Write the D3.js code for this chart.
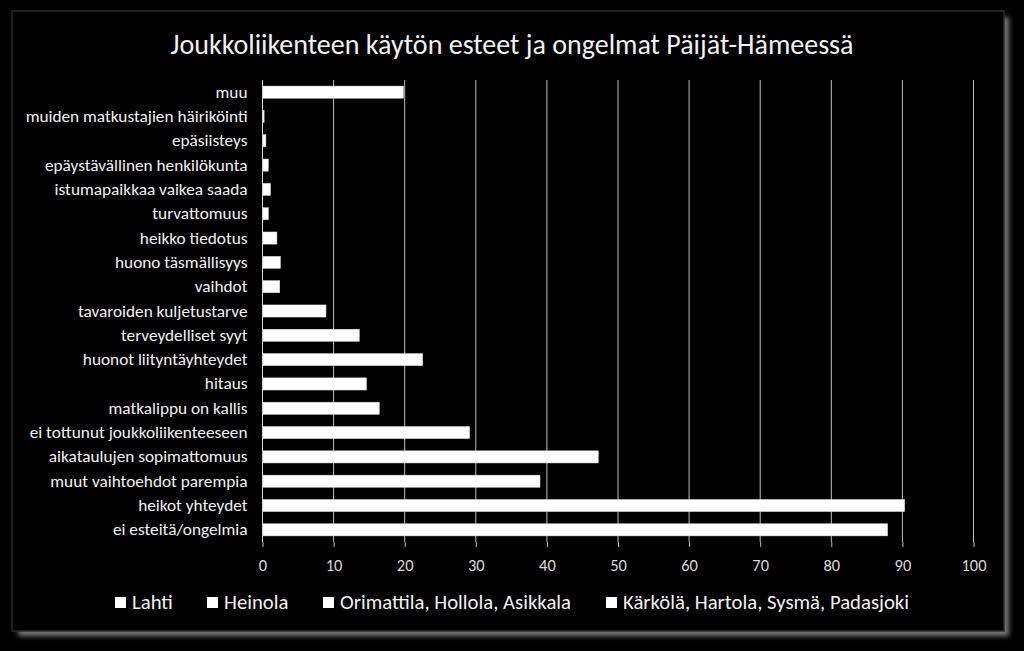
<!DOCTYPE html>
<html><head><meta charset="utf-8">
<script src="https://cdn.jsdelivr.net/npm/d3@7"></script>
<style>html,body{margin:0;padding:0;background:#000;}svg{display:block;}</style>
</head><body>
<svg id="c" width="1024" height="651"></svg>
<script>
const title = "Joukkoliikenteen käytön esteet ja ongelmat Päijät-Hämeessä";
const categories = [
  "muu","muiden matkustajien häiriköinti","epäsiisteys","epäystävällinen henkilökunta",
  "istumapaikkaa vaikea saada","turvattomuus","heikko tiedotus","huono täsmällisyys",
  "vaihdot","tavaroiden kuljetustarve","terveydelliset syyt","huonot liityntäyhteydet",
  "hitaus","matkalippu on kallis","ei tottunut joukkoliikenteeseen","aikataulujen sopimattomuus",
  "muut vaihtoehdot parempia","heikot yhteydet","ei esteitä/ongelmia"
];
const values = [19.9,0.3,0.55,0.9,1.2,0.9,2.1,2.6,2.5,9.0,13.7,22.6,14.7,16.5,29.2,47.3,39.1,90.4,88.0];
const xTicks = [0,10,20,30,40,50,60,70,80,90,100];
const legendNames = ["Lahti","Heinola","Orimattila, Hollola, Asikkala","Kärkölä, Hartola, Sysmä, Padasjoki"];

const svg = d3.select("#c");
const font = "Carlito, Calibri, Lato, 'Open Sans', sans-serif";
const defs = svg.append("defs");
defs.append("filter").attr("id","blur").attr("x","-5%").attr("y","-5%").attr("width","110%").attr("height","110%")
  .append("feGaussianBlur").attr("stdDeviation",2.5);

function fit(sel, base, target){
  sel.style("font-size", base+"px");
  const w = sel.node().getComputedTextLength();
  const s = base*target/w;
  return s;
}

// frame shadow + panel
svg.append("rect").attr("x",18).attr("y",17).attr("width",991).attr("height",619)
  .attr("fill","#777").attr("filter","url(#blur)");
svg.append("rect").attr("x",12).attr("y",11).attr("width",992).attr("height",620)
  .attr("fill","#000").attr("stroke","#2b2b2b").attr("stroke-width",1.5);

const x = d3.scaleLinear().domain([0,100]).range([262,973]);
const y = d3.scaleBand().domain(categories).range([80,542]).paddingInner(0.5).paddingOuter(0.25);

// title
const t = svg.append("text").attr("x",512).attr("y",54).attr("text-anchor","middle")
  .attr("fill","#f2f2f2").style("font-family",font).text(title);
t.style("font-size", fit(t,24,683).toFixed(2)+"px");

// gridlines
svg.append("g").selectAll("line.grid").data(xTicks.slice(1)).join("line").attr("class","grid")
  .attr("x1",d=>x(d)+0.5).attr("x2",d=>x(d)+0.5).attr("y1",80).attr("y2",542)
  .attr("stroke","#bfbfbf").attr("stroke-width",1);

// x axis
const xa = svg.append("g").attr("transform","translate(0.5,542)")
  .call(d3.axisBottom(x).tickValues(xTicks).tickSize(5).tickPadding(12).tickSizeOuter(0));
xa.select(".domain").remove();
xa.selectAll(".tick line").attr("stroke","#bfbfbf");
const xt = xa.selectAll(".tick text").attr("fill","#d9d9d9").style("font-family",font);
const tickSize = fit(xt.filter(d=>d===100), 14, 25);
xt.style("font-size", tickSize.toFixed(2)+"px");

// y axis
const ya = svg.append("g").attr("transform","translate(262.5,0)")
  .call(d3.axisLeft(y).tickSize(0).tickPadding(15));
ya.select(".domain").attr("stroke","#d9d9d9").attr("d","M0,80V542");
const yt = ya.selectAll(".tick text").attr("fill","#f2f2f2").style("font-family",font);
const ySize = fit(yt.filter(d=>d===categories[1]), 14, 222);
yt.style("font-size", ySize.toFixed(2)+"px");

// bars
svg.append("g").selectAll("rect").data(values).join("rect")
  .attr("x",x(0)+1).attr("y",(d,i)=>y(categories[i]))
  .attr("width",d=>Math.max(0,x(d)-x(0)-1)).attr("height",y.bandwidth())
  .attr("fill","#ffffff").attr("stroke","#d0d0d0").attr("stroke-width",0.5);

// legend
const legX = [115,207,323,606];
const lg = svg.append("g");
const lt = [];
legendNames.forEach((n,i)=>{
  lg.append("rect").attr("x",legX[i]).attr("y",597).attr("width",11).attr("height",11).attr("fill","#fff");
  lt.push(lg.append("text").attr("x",legX[i]+17).attr("y",609).attr("fill","#f2f2f2")
    .style("font-family",font).text(n));
});
const legSize = fit(lt[3], 16, 286);
lt.forEach(s=>s.style("font-size", legSize.toFixed(2)+"px"));
</script>
</body></html>
